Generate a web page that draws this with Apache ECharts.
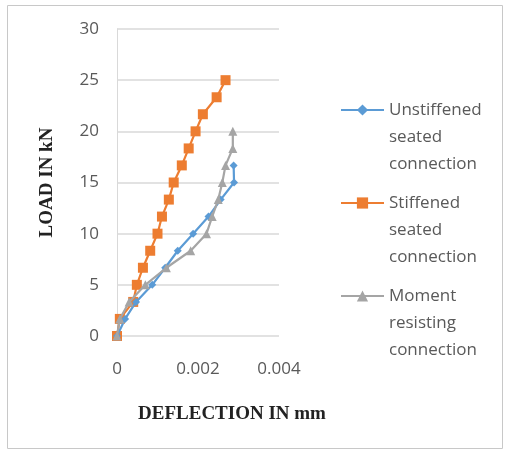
<!DOCTYPE html>
<html><head><meta charset="utf-8">
<script src="https://cdn.jsdelivr.net/npm/echarts@6/dist/echarts.min.js"></script>
<style>html,body{margin:0;padding:0;background:#fff}#c{width:506px;height:451px}</style>
</head><body><div id="c"></div>
<script>
const xTicks = [0, 0.002, 0.004];
const yTicks = [0, 5, 10, 15, 20, 25, 30];
const unstiffenedX = [0, 0.0002, 0.00047, 0.00087, 0.00119, 0.0015, 0.00188, 0.00226, 0.00256, 0.00289, 0.00288];
const unstiffenedY = [0, 1.67, 3.33, 5, 6.67, 8.33, 10, 11.67, 13.33, 15, 16.67];
const stiffenedX = [0, 0.00007, 0.0004, 0.00049, 0.00064, 0.00082, 0.001, 0.00111, 0.00128, 0.0014, 0.0016, 0.00177, 0.00194, 0.00212, 0.00246, 0.00268];
const stiffenedY = [0, 1.67, 3.33, 5, 6.67, 8.33, 10, 11.67, 13.33, 15, 16.67, 18.33, 20, 21.67, 23.33, 25];
const momentX = [0, 0.00007, 0.0003, 0.0007, 0.00122, 0.00182, 0.00221, 0.00235, 0.0025, 0.0026, 0.00268, 0.00286, 0.00286];
const momentY = [0, 1.67, 3.33, 5, 6.67, 8.33, 10, 11.67, 13.33, 15, 16.67, 18.33, 20];
const names = ['Unstiffened\nseated\nconnection', 'Stiffened\nseated\nconnection', 'Moment\nresisting\nconnection'];

const zip = (xs, ys) => xs.map((x, i) => [x, ys[i]]);
const chart = echarts.init(document.getElementById('c'), null, {renderer: 'canvas'});
const legendText = {fontFamily: 'Open Sans', fontSize: 17, color: '#595959', lineHeight: 27};
const mkLegend = (name, top) => ({
  data: [name], left: 335, top: top, orient: 'vertical', itemWidth: 43, itemHeight: 14,
  itemGap: 0, textStyle: legendText, selectedMode: false,
  formatter: n => '\n\n' + n
});
chart.setOption({
  animation: false,
  graphic: [{type: 'rect', shape: {x: 7.5, y: 5.5, width: 495, height: 443}, style: {fill: 'none', stroke: '#c8c8c8', lineWidth: 1}}],
  grid: {left: 117, right: 227, top: 29, bottom: 115},
  xAxis: {
    type: 'value', min: 0, max: 0.004, interval: 0.002,
    axisLine: {show: false}, axisTick: {show: false}, splitLine: {show: false},
    axisLabel: {margin: 25, fontFamily: 'Open Sans', fontSize: 17, color: '#595959', formatter: v => String(v)},
    name: 'DEFLECTION IN mm', nameLocation: 'middle', nameGap: 69,
    nameTextStyle: {fontFamily: 'Liberation Serif', fontWeight: 'bold', fontSize: 19, color: '#222', padding: [0, 0, 0, 68]}
  },
  yAxis: {
    type: 'value', min: 0, max: 30, interval: 5,
    axisLine: {show: true, lineStyle: {color: '#d9d9d9'}}, axisTick: {show: false},
    splitLine: {lineStyle: {color: '#d9d9d9', width: 1.5}},
    axisLabel: {margin: 18, fontFamily: 'Open Sans', fontSize: 17, color: '#595959'},
    name: 'LOAD IN kN', nameLocation: 'middle', nameGap: 60,
    nameTextStyle: {fontFamily: 'Liberation Serif', fontWeight: 'bold', fontSize: 19, color: '#222'}
  },
  legend: [mkLegend(names[0], 37.5), mkLegend(names[1], 130.5), mkLegend(names[2], 223.5)],
  series: [
    {name: names[0], type: 'line', data: zip(unstiffenedX, unstiffenedY), symbol: 'diamond', symbolSize: 8,
     itemStyle: {color: '#5B9BD5'}, lineStyle: {width: 2.2, color: '#5B9BD5'}, z: 3},
    {name: names[1], type: 'line', data: zip(stiffenedX, stiffenedY), symbol: 'rect', symbolSize: 10,
     itemStyle: {color: '#ED7D31'}, lineStyle: {width: 2.2, color: '#ED7D31'}, z: 2},
    {name: names[2], type: 'line', data: zip(momentX, momentY), symbol: 'triangle', symbolSize: 9,
     itemStyle: {color: '#A5A5A5'}, lineStyle: {width: 2.2, color: '#A5A5A5'}, z: 4}
  ]
});
</script></body></html>
